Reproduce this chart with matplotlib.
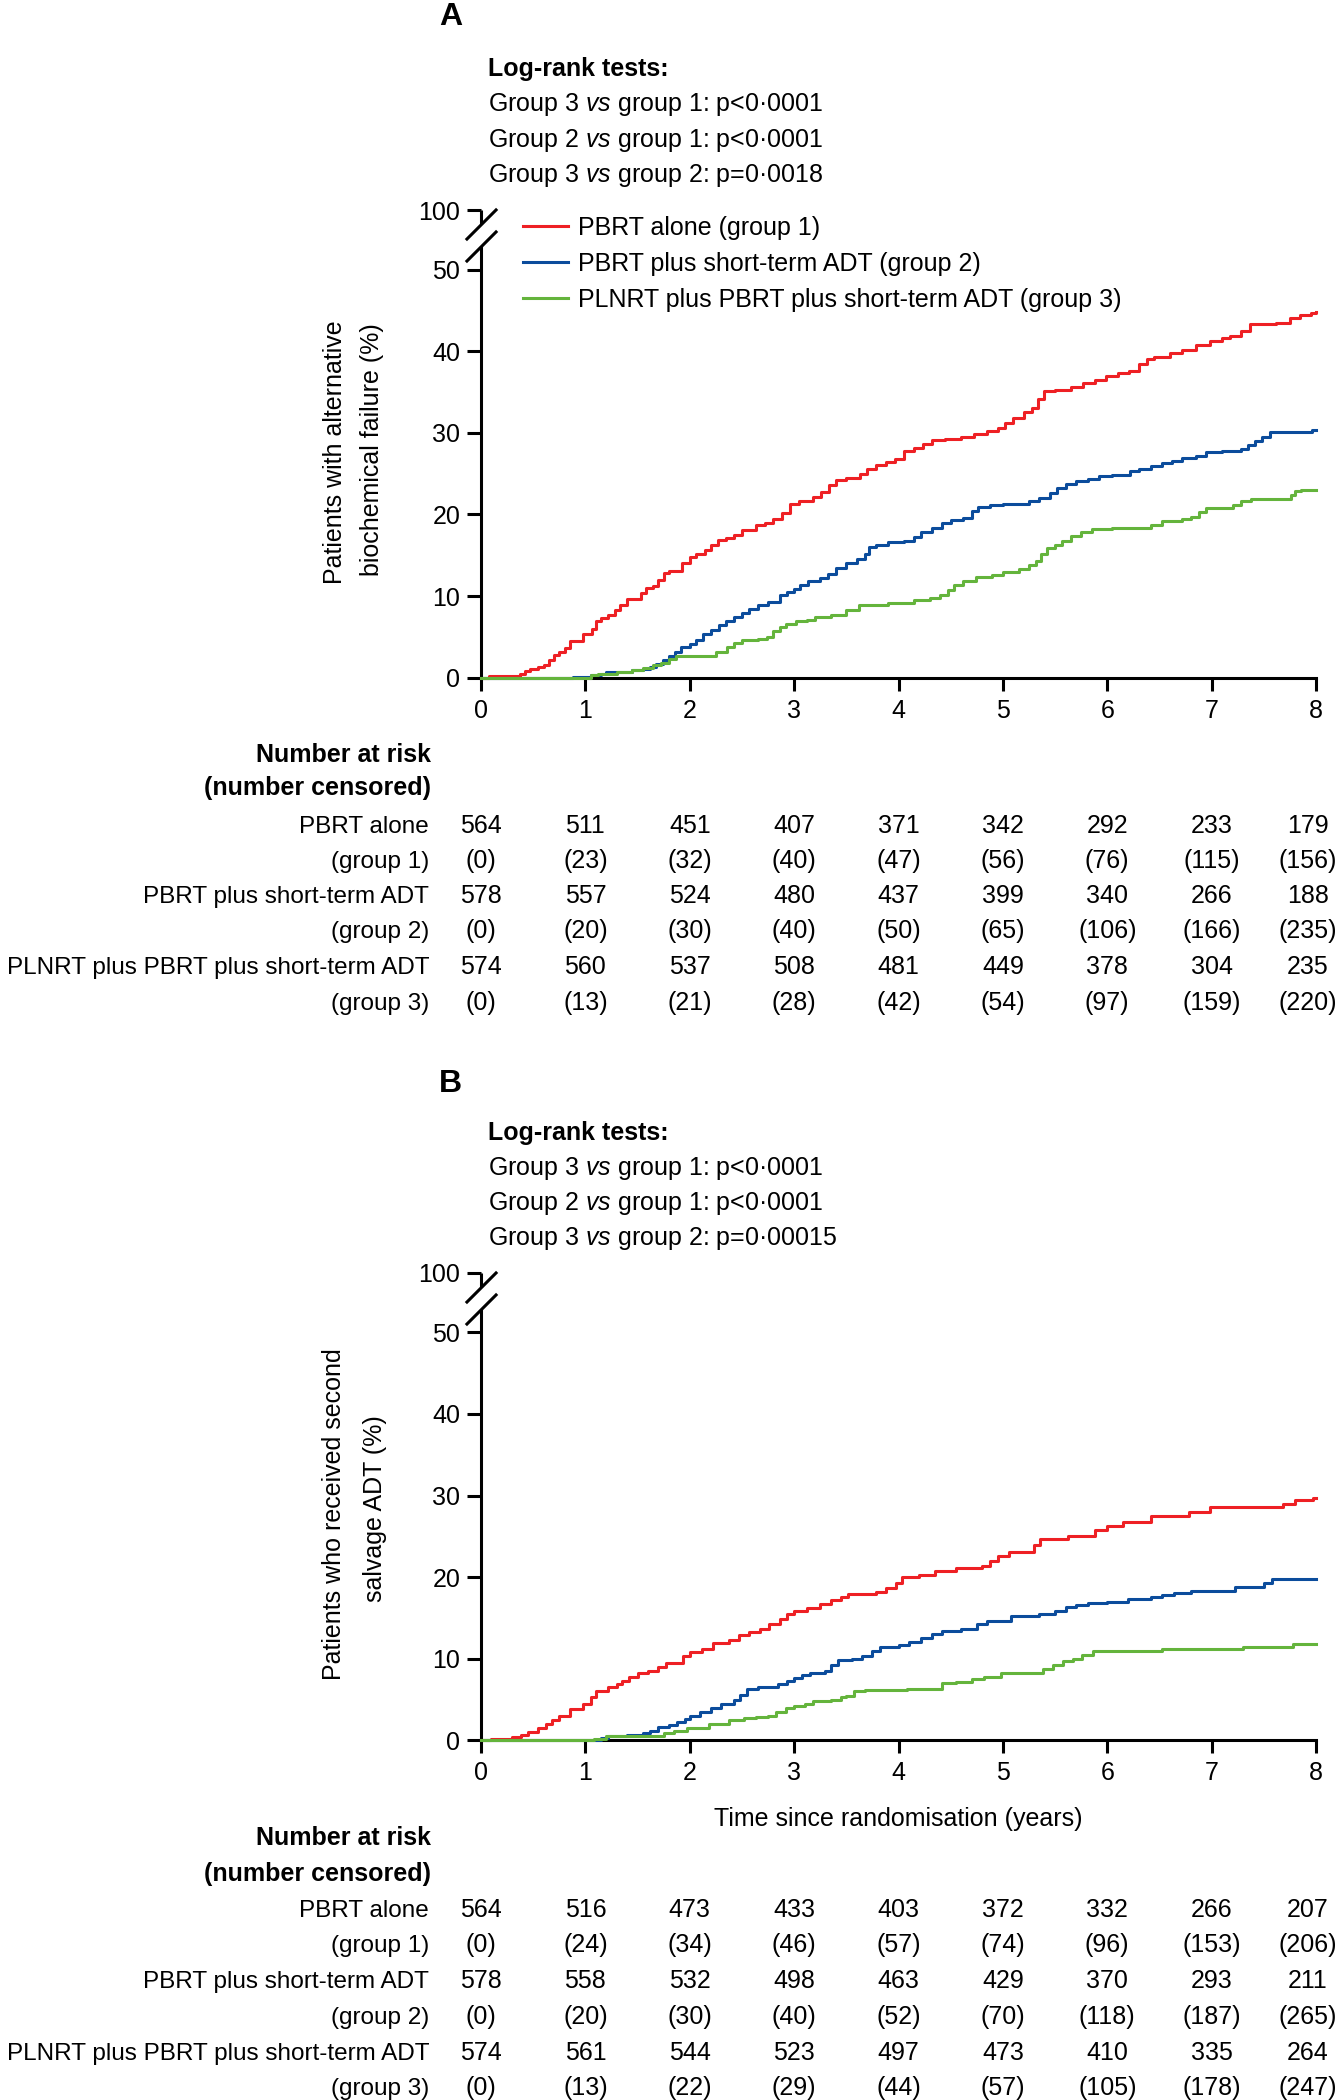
import matplotlib
matplotlib.use("Agg")
import matplotlib.pyplot as plt
import matplotlib.transforms as mtransforms

plt.rcParams['font.family'] = ['Liberation Sans', 'DejaVu Sans']
plt.rcParams['mathtext.fontset'] = 'custom'
plt.rcParams['mathtext.rm'] = 'Liberation Sans'
plt.rcParams['mathtext.it'] = 'Liberation Sans:italic'
plt.rcParams['mathtext.bf'] = 'Liberation Sans:bold'

# ---- data ----
years = [0, 1, 2, 3, 4, 5, 6, 7, 8]
group_names = ["PBRT alone (group 1)",
               "PBRT plus short-term ADT (group 2)",
               "PLNRT plus PBRT plus short-term ADT (group 3)"]
row_labels = ["PBRT alone", "(group 1)", "PBRT plus short-term ADT", "(group 2)",
              "PLNRT plus PBRT plus short-term ADT", "(group 3)"]

# panel A: alternative biochemical failure (%)
a_red_t = [0, 0.08, 0.37, 0.42, 0.47, 0.55, 0.6, 0.65, 0.7, 0.75, 0.8, 0.85, 0.98, 1.06, 1.1,
           1.15, 1.22, 1.28, 1.33, 1.4, 1.53, 1.58, 1.65, 1.7, 1.75, 1.8, 1.93, 2.0, 2.06, 2.15,
           2.2, 2.27, 2.35, 2.42, 2.5, 2.63, 2.72, 2.8, 2.88, 2.96, 3.05, 3.18, 3.26, 3.33, 3.4,
           3.5, 3.63, 3.7, 3.78, 3.88, 3.97, 4.05, 4.15, 4.23, 4.32, 4.45, 4.6, 4.72, 4.85, 4.95,
           5.02, 5.1, 5.2, 5.28, 5.34, 5.39, 5.5, 5.65, 5.77, 5.88, 5.99, 6.1, 6.21, 6.3, 6.38,
           6.45, 6.6, 6.72, 6.85, 6.98, 7.1, 7.18, 7.28, 7.37, 7.62, 7.75, 7.85, 7.95, 8.0]
a_red_v = [0, 0.2, 0.4, 0.8, 1.1, 1.3, 1.6, 2.2, 2.8, 3.2, 3.6, 4.5, 5.3, 6.0, 7.0,
           7.3, 7.7, 8.3, 8.9, 9.6, 10.4, 11.0, 11.2, 12.0, 12.8, 13.1, 14.0, 14.8, 15.2, 15.7,
           16.3, 16.9, 17.1, 17.5, 18.1, 18.7, 19.0, 19.5, 20.2, 21.3, 21.7, 22.1, 22.8, 23.6, 24.2,
           24.5, 25.0, 25.6, 26.0, 26.4, 26.8, 27.8, 28.1, 28.6, 29.1, 29.3, 29.5, 29.8, 30.2, 30.6,
           31.2, 31.8, 32.5, 33.1, 34.2, 35.1, 35.3, 35.6, 36.1, 36.5, 37.0, 37.3, 37.6, 38.4, 39.0,
           39.3, 39.8, 40.2, 40.7, 41.3, 41.6, 41.9, 42.5, 43.3, 43.5, 44.1, 44.4, 44.7, 44.8]
a_blue_t = [0, 0.88, 1.05, 1.15, 1.2, 1.45, 1.55, 1.62, 1.68, 1.74, 1.8, 1.86, 1.92, 2.0, 2.06,
            2.13, 2.2, 2.28, 2.35, 2.42, 2.5, 2.57, 2.65, 2.75, 2.86, 2.93, 3.0, 3.06, 3.13, 3.25,
            3.32, 3.4, 3.5, 3.6, 3.68, 3.72, 3.78, 3.9, 4.05, 4.15, 4.22, 4.32, 4.42, 4.5, 4.62,
            4.7, 4.76, 4.88, 5.0, 5.25, 5.35, 5.45, 5.52, 5.6, 5.7, 5.82, 5.92, 6.05, 6.22, 6.3,
            6.42, 6.52, 6.62, 6.72, 6.85, 6.95, 7.1, 7.28, 7.35, 7.42, 7.48, 7.56, 7.96, 8.0]
a_blue_v = [0, 0.1, 0.3, 0.5, 0.7, 1.0, 1.1, 1.3, 1.7, 2.2, 2.6, 3.2, 3.7, 4.1, 4.6,
            5.3, 5.8, 6.5, 6.9, 7.4, 7.9, 8.4, 8.9, 9.3, 10.1, 10.5, 10.9, 11.3, 11.8, 12.2,
            12.7, 13.5, 14.0, 14.5, 15.1, 16.0, 16.3, 16.6, 16.8, 17.2, 17.8, 18.3, 18.9, 19.3, 19.6,
            20.4, 20.9, 21.1, 21.3, 21.6, 22.0, 22.6, 23.3, 23.7, 24.1, 24.4, 24.7, 24.8, 25.3, 25.6,
            25.9, 26.3, 26.6, 26.9, 27.2, 27.6, 27.8, 28.0, 28.5, 29.0, 29.5, 30.1, 30.4, 30.4]
a_green_t = [0, 1.05, 1.12, 1.3, 1.45, 1.55, 1.65, 1.72, 1.8, 1.87, 1.93, 2.25, 2.36, 2.42, 2.5,
             2.65, 2.74, 2.8, 2.86, 2.92, 3.02, 3.12, 3.2, 3.35, 3.5, 3.62, 3.9, 4.15, 4.3,
             4.4, 4.47, 4.53, 4.62, 4.74, 4.9, 5.0, 5.15, 5.25, 5.32, 5.37, 5.42, 5.5, 5.57,
             5.65, 5.75, 5.85, 6.05, 6.42, 6.52, 6.72, 6.8, 6.88, 6.95, 7.2, 7.28, 7.38, 7.76,
             7.8, 7.86, 8.0]
a_green_v = [0, 0.3, 0.5, 0.7, 0.9, 1.2, 1.5, 1.8, 2.3, 2.6, 2.7, 3.1, 3.7, 4.2, 4.6,
             4.8, 5.0, 5.7, 6.2, 6.6, 6.9, 7.1, 7.4, 7.7, 8.3, 8.9, 9.2, 9.5, 9.8,
             10.1, 10.8, 11.4, 11.9, 12.3, 12.6, 12.9, 13.3, 13.8, 14.3, 15.2, 15.9, 16.2, 16.8,
             17.4, 17.8, 18.2, 18.4, 18.7, 19.2, 19.4, 19.7, 20.3, 20.8, 21.1, 21.6, 21.9, 22.4,
             22.9, 23.0, 23.0]

# panel B: received second salvage ADT (%)
b_red_t = [0, 0.1, 0.3, 0.38, 0.45, 0.55, 0.62, 0.68, 0.75, 0.85, 0.98, 1.05, 1.1, 1.22, 1.3,
           1.35, 1.42, 1.5, 1.6, 1.7, 1.77, 1.94, 2.0, 2.12, 2.22, 2.38, 2.47, 2.57, 2.67, 2.76,
           2.86, 2.93, 3.0, 3.12, 3.25, 3.35, 3.45, 3.52, 3.78, 3.88, 3.98, 4.03, 4.2, 4.35,
           4.55, 4.8, 4.88, 4.95, 5.06, 5.3, 5.36, 5.62, 5.88, 6.0, 6.15, 6.42, 6.78, 6.98,
           7.68, 7.8, 7.97, 8.0]
b_red_v = [0, 0.2, 0.4, 0.7, 1.0, 1.5, 2.0, 2.5, 3.0, 3.8, 4.5, 5.3, 6.0, 6.5, 6.9,
           7.3, 7.8, 8.2, 8.5, 9.0, 9.5, 10.3, 10.8, 11.2, 11.9, 12.3, 12.9, 13.3, 13.7, 14.3,
           14.9, 15.5, 15.9, 16.2, 16.7, 17.2, 17.6, 17.9, 18.2, 18.7, 19.3, 20.0, 20.3, 20.7,
           21.1, 21.4, 22.0, 22.6, 23.1, 24.0, 24.7, 25.0, 25.8, 26.3, 26.8, 27.5, 28.0, 28.6,
           29.0, 29.4, 29.7, 29.7]
b_blue_t = [0, 1.15, 1.22, 1.4, 1.55, 1.62, 1.7, 1.8, 1.88, 1.95, 2.0, 2.1, 2.2, 2.3, 2.42,
            2.48, 2.55, 2.65, 2.85, 2.93, 3.0, 3.08, 3.15, 3.3, 3.35, 3.42, 3.55, 3.65, 3.75,
            3.82, 4.0, 4.1, 4.22, 4.32, 4.42, 4.6, 4.75, 4.85, 5.08, 5.35, 5.5, 5.6, 5.7, 5.82,
            6.0, 6.2, 6.42, 6.52, 6.64, 6.8, 7.22, 7.5, 7.58, 8.0]
b_blue_v = [0, 0.3, 0.6, 0.7, 0.9, 1.2, 1.6, 1.9, 2.3, 2.6, 3.0, 3.5, 4.0, 4.5, 5.0,
            5.6, 6.3, 6.6, 6.9, 7.3, 7.6, 8.0, 8.3, 8.5, 9.2, 9.8, 10.0, 10.4, 11.0,
            11.5, 11.7, 12.0, 12.5, 13.0, 13.4, 13.6, 14.2, 14.6, 15.2, 15.5, 15.9, 16.3, 16.6, 16.8,
            17.0, 17.3, 17.6, 17.8, 18.1, 18.3, 18.8, 19.3, 19.8, 19.8]
b_green_t = [0, 1.08, 1.2, 1.7, 1.75, 1.85, 1.97, 2.18, 2.38, 2.52, 2.63, 2.75, 2.83, 2.92, 3.0,
             3.1, 3.18, 3.35, 3.45, 3.5, 3.57, 3.68, 4.08, 4.42, 4.55, 4.7, 4.82, 4.98, 5.38,
             5.48, 5.58, 5.67, 5.76, 5.86, 6.52, 7.3, 7.78, 8.0]
b_green_v = [0, 0.2, 0.5, 0.6, 0.9, 1.2, 1.5, 2.0, 2.5, 2.7, 2.9, 3.0, 3.5, 4.0, 4.2,
             4.5, 4.8, 5.0, 5.3, 5.5, 6.0, 6.2, 6.3, 7.0, 7.2, 7.5, 7.8, 8.2, 8.7,
             9.2, 9.7, 10.0, 10.5, 10.9, 11.2, 11.5, 11.8, 11.8]

a_risk = [[564, 511, 451, 407, 371, 342, 292, 233, 179],
          [578, 557, 524, 480, 437, 399, 340, 266, 188],
          [574, 560, 537, 508, 481, 449, 378, 304, 235]]
a_cens = [[0, 23, 32, 40, 47, 56, 76, 115, 156],
          [0, 20, 30, 40, 50, 65, 106, 166, 235],
          [0, 13, 21, 28, 42, 54, 97, 159, 220]]
b_risk = [[564, 516, 473, 433, 403, 372, 332, 266, 207],
          [578, 558, 532, 498, 463, 429, 370, 293, 211],
          [574, 561, 544, 523, 497, 473, 410, 335, 264]]
b_cens = [[0, 24, 34, 46, 57, 74, 96, 153, 206],
          [0, 20, 30, 40, 52, 70, 118, 187, 265],
          [0, 13, 22, 29, 44, 57, 105, 178, 247]]

a_tests = ["Group 3 $\\mathit{vs}$ group 1: p<0·0001",
           "Group 2 $\\mathit{vs}$ group 1: p<0·0001",
           "Group 3 $\\mathit{vs}$ group 2: p=0·0018"]
b_tests = ["Group 3 $\\mathit{vs}$ group 1: p<0·0001",
           "Group 2 $\\mathit{vs}$ group 1: p<0·0001",
           "Group 3 $\\mathit{vs}$ group 2: p=0·00015"]

colors = ['#ee2024', '#0b4c9c', '#64b43c']

W, H = 1339, 2100
FS = 18
LW = 2.2
TOP = 57.3   # where the "100" tick sits above the axis break

fig = plt.figure(figsize=(W / 100, H / 100), dpi=100)


def fx(px):
    return px / W


def fy(py):
    return 1 - py / H


def panel(zero_px, letter, letter_y, tests, test_y, ylab, ylab_pos, curves, risk, cens,
          head_y, row_y, legend=False, xlabel=False):
    ax = fig.add_axes([fx(481), fy(zero_px), fx(835), 467.7 / H])
    ax.set_xlim(0, 8)
    ax.set_ylim(0, TOP)
    for s in ['top', 'right', 'left']:
        ax.spines[s].set_visible(False)
    ax.spines['bottom'].set_linewidth(LW)
    ax.set_xticks(years)
    ax.set_xticklabels([str(y) for y in years])
    ax.set_yticks([0, 10, 20, 30, 40, 50, TOP])
    ax.set_yticklabels(['0', '10', '20', '30', '40', '50', '100'])
    ax.tick_params(axis='y', length=10, width=LW, pad=5, labelsize=FS)
    ax.tick_params(axis='x', length=9, width=LW, pad=6, labelsize=FS)

    # broken left axis
    tr = ax.get_yaxis_transform()
    ax.plot([0, 0], [0, 52.9], transform=tr, color='k', lw=LW, clip_on=False,
            solid_capstyle='butt')
    ax.plot([0, 0], [55.6, TOP], transform=tr, color='k', lw=LW, clip_on=False,
            solid_capstyle='butt')
    ax.plot([0, 0], [55.6, 52.9], transform=tr, marker=[(-1, -1), (1, 1)], markersize=22.5,
            ls='none', color='k', mec='k', mew=LW, clip_on=False)

    for (t, v), c, name in zip(curves, colors, group_names):
        ax.step(t, v, where='post', color=c, lw=LW, zorder=3, clip_on=False, label=name)

    if legend:
        ax.legend(loc='upper left', bbox_to_anchor=(fx(523), fy(216)),
                  bbox_transform=fig.transFigure, frameon=False, fontsize=FS,
                  handlelength=1.8, handletextpad=0.38, labelspacing=0.47,
                  borderpad=0, borderaxespad=0)

    fig.text(fx(439), fy(letter_y), letter, fontsize=23, fontweight='bold', va='baseline')
    fig.text(fx(488), fy(test_y[0]), "Log-rank tests:", fontsize=FS, fontweight='bold',
             va='baseline')
    for s, y in zip(tests, test_y[1:]):
        fig.text(fx(488), fy(y), s, fontsize=FS, va='baseline')

    for s, (x, y) in zip(ylab, ylab_pos):
        fig.text(fx(x), fy(y), s, fontsize=FS, rotation=90, ha='center', va='center')

    if xlabel:
        fig.text(fx(898), fy(xlabel), "Time since randomisation (years)", fontsize=FS,
                 ha='center', va='baseline')

    # number at risk table
    fig.text(fx(431), fy(head_y[0]), "Number at risk", fontsize=FS, fontweight='bold',
             ha='right', va='baseline')
    fig.text(fx(431), fy(head_y[1]), "(number censored)", fontsize=FS, fontweight='bold',
             ha='right', va='baseline')
    btr = mtransforms.blended_transform_factory(ax.transData, fig.transFigure)
    rows = []
    for r, cn in zip(risk, cens):
        rows.append([str(n) for n in r])
        rows.append(["(%d)" % n for n in cn])
    for lab, vals, y in zip(row_labels, rows, row_y):
        fig.text(fx(429), fy(y), lab, fontsize=17.5, ha='right', va='baseline')
        for yr, s in zip(years, vals):
            xpos = yr - 0.08 if yr == 8 else yr
            ax.text(xpos, fy(y), s, transform=btr, fontsize=FS, ha='center', va='baseline')
    return ax


panel(677.7, "A", 25, a_tests, [76, 111.5, 146.7, 181.7],
      ["Patients with alternative", "biochemical failure (%)"], [(335, 452), (372, 450)],
      [(a_red_t, a_red_v), (a_blue_t, a_blue_v), (a_green_t, a_green_v)],
      a_risk, a_cens, [762, 795], [833, 868, 903, 938, 974, 1010], legend=True)

panel(1740.4, "B", 1092, b_tests, [1140, 1175, 1210, 1245],
      ["Patients who received second", "salvage ADT (%)"], [(334, 1514), (375, 1509)],
      [(b_red_t, b_red_v), (b_blue_t, b_blue_v), (b_green_t, b_green_v)],
      b_risk, b_cens, [1845, 1881], [1917, 1952, 1988, 2024, 2060, 2095], xlabel=1826)

fig.savefig("out.png", dpi=100)
